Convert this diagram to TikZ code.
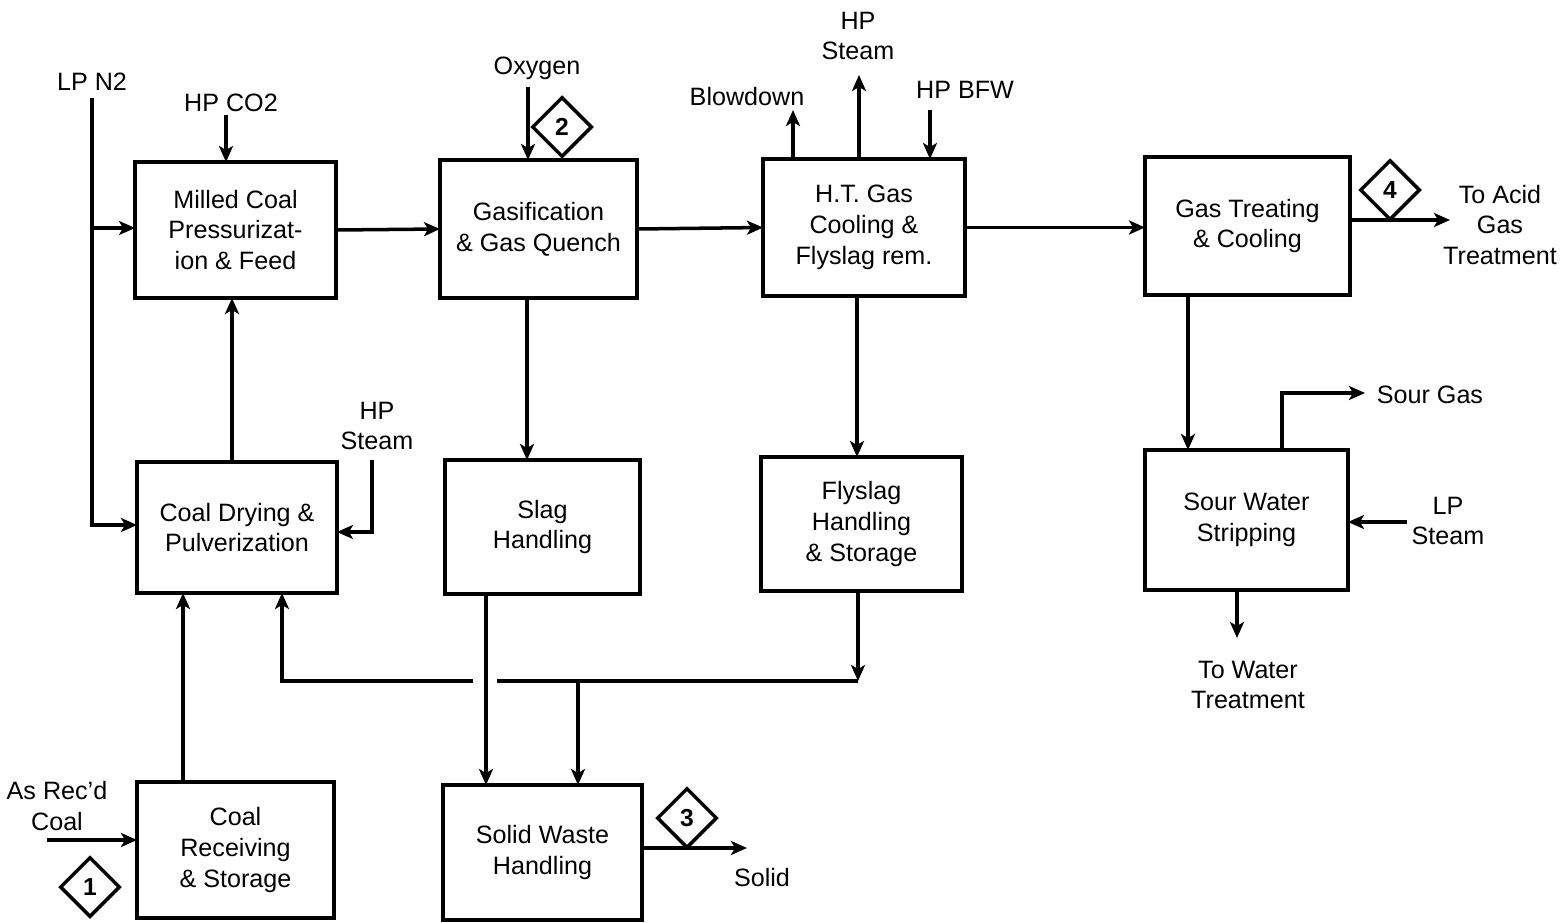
\documentclass[tikz,border=0pt]{standalone}
\usepackage{fontspec}
\setmainfont{Liberation Sans}
\usetikzlibrary{arrows.meta,shapes.geometric}
\begin{document}
\begin{tikzpicture}[x=0.02cm,y=-0.02cm,
  font=\fontsize{14.3}{17.5}\selectfont,
  box/.style={draw,line width=2.2pt,inner sep=0pt,outer sep=0pt,align=center},
  ln/.style={line width=2pt},
  arr/.style={ln,-{Stealth[length=0.32cm,width=0.28cm,inset=0.08cm]}},
  lbl/.style={align=center,inner sep=0pt},
  dia/.style={diamond,draw,line width=2pt,minimum width=1.2cm,minimum height=1.2cm,inner sep=0pt,font=\fontsize{14}{16}\selectfont\bfseries}
]
\useasboundingbox (0,0) rectangle (1563,923);

% boxes
\node[box,minimum width=4.02cm,minimum height=2.72cm] (mill) at (235.5,230) {Milled Coal\\Pressurizat-\\ion \& Feed};
\node[box,minimum width=3.94cm,minimum height=2.76cm] (gas) at (538.5,229) {Gasification\\\& Gas Quench};
\node[box,minimum width=4.04cm,minimum height=2.74cm] (ht) at (864,227.5) {H.T. Gas\\Cooling \&\\Flyslag rem.};
\node[box,minimum width=4.10cm,minimum height=2.76cm] (gt) at (1247.5,226) {Gas Treating\\\& Cooling};
\node[box,minimum width=4.06cm,minimum height=2.80cm] (sws) at (1246.5,520) {Sour Water\\Stripping};
\node[box,minimum width=4.00cm,minimum height=2.62cm] (dry) at (237,527.5) {Coal Drying \&\\Pulverization};
\node[box,minimum width=3.90cm,minimum height=2.68cm] (slag) at (542.5,527) {Slag\\Handling};
\node[box,minimum width=4.02cm,minimum height=2.68cm] (fly) at (861.5,524) {Flyslag\\Handling\\\& Storage};
\node[box,minimum width=3.94cm,minimum height=2.72cm] (rec) at (235.5,850) {Coal\\Receiving\\\& Storage};
\node[box,minimum width=3.98cm,minimum height=2.70cm] (sw) at (542.5,852.5) {Solid Waste\\Handling};

% labels
\node[lbl] (lpn2) at (92,82) {LP N2};
\node[lbl] (co2) at (231,103) {HP CO2};
\node[lbl] (oxy) at (537,68) {Oxygen};
\node[lbl] (blow) at (747,97) {Blowdown};
\node[lbl] (hps) at (858,36) {HP\\Steam};
\node[lbl] (bfw) at (965,90) {HP BFW};
\node[lbl] (acid) at (1500,225) {To Acid\\Gas\\Treatment};
\node[lbl] (sour) at (1430,395) {Sour Gas};
\node[lbl] (lps) at (1448,521) {LP\\Steam};
\node[lbl] (water) at (1248,685) {To Water\\Treatment};
\node[lbl] (hps2) at (377,426) {HP\\Steam};
\node[lbl] (asrec) at (57,806) {As Rec'd\\Coal};
\node[lbl] (solid) at (762,878) {Solid};

% diamonds
\node[dia] (d1) at (90,887) {1};
\node[dia] (d2) at (562,127) {2};
\node[dia] (d3) at (687,818) {3};
\node[dia] (d4) at (1390,190) {4};

% coordinates
\coordinate (n2top) at (92,98);
\coordinate (n2mid) at (92,228);
\coordinate (n2bot) at (92,525);
\coordinate (co2s) at (226,115);
\coordinate (oxys) at (528,87);
\coordinate (blowe) at (793,110);
\coordinate (hpse) at (859,75);
\coordinate (bfws) at (930,110);
\coordinate (acide) at (1450,220);
\coordinate (sourc) at (1282,393);
\coordinate (soure) at (1365,393);
\coordinate (lpss) at (1407,522);
\coordinate (watere) at (1237,638);
\coordinate (hp2s) at (372,460);
\coordinate (hp2c) at (372,532);
\coordinate (coals) at (47,840);
\coordinate (solide) at (747,848);
\coordinate (hj) at (858,681);
\coordinate (gapR) at (497,681);
\coordinate (gapL) at (473,681);
\coordinate (hleft) at (282,681);
\coordinate (hdown) at (578,681);

% connectors
\draw[arr] (n2top) -- (n2bot) -- (n2bot -| dry.west);
\draw[arr] (n2mid) -- (n2mid -| mill.west);
\draw[arr] (co2s) -- (co2s |- mill.north);
\draw[arr] (mill.east) -- (gas.west);
\draw[arr] (oxys) -- (oxys |- gas.north);
\draw[arr] (gas.east) -- (ht.west);
\draw[arr] (blowe |- ht.north) -- (blowe);
\draw[arr] (hpse |- ht.north) -- (hpse);
\draw[arr] (bfws) -- (bfws |- ht.north);
\draw[arr] (ht.east) -- (ht.east -| gt.west);
\draw[arr] (acide -| gt.east) -- (acide);
\draw[arr] (1188,0 |- gt.south) -- (1188,0 |- sws.north);
\draw[arr] (sourc |- sws.north) -- (sourc) -- (soure);
\draw[arr] (lpss) -- (lpss -| sws.east);
\draw[arr] (watere |- sws.south) -- (watere);
\draw[arr] (527,0 |- gas.south) -- (527,0 |- slag.north);
\draw[arr] (857,0 |- ht.south) -- (857,0 |- fly.north);
\draw[arr] (232,0 |- dry.north) -- (232,0 |- mill.south);
\draw[arr] (hp2s) -- (hp2c) -- (hp2c -| dry.east);
\draw[arr] (183,0 |- rec.north) -- (183,0 |- dry.south);
\draw[arr] (coals) -- (coals -| rec.west);
\draw[arr] (486,0 |- slag.south) -- (486,0 |- sw.north);
\draw[arr] (hj |- fly.south) -- (hj);
\draw[ln] (hj) -- (gapR);
\draw[arr] (gapL) -- (hleft) -- (hleft |- dry.south);
\draw[arr] (hdown) -- (hdown |- sw.north);
\draw[arr] (solide -| sw.east) -- (solide);
\end{tikzpicture}
\end{document}
